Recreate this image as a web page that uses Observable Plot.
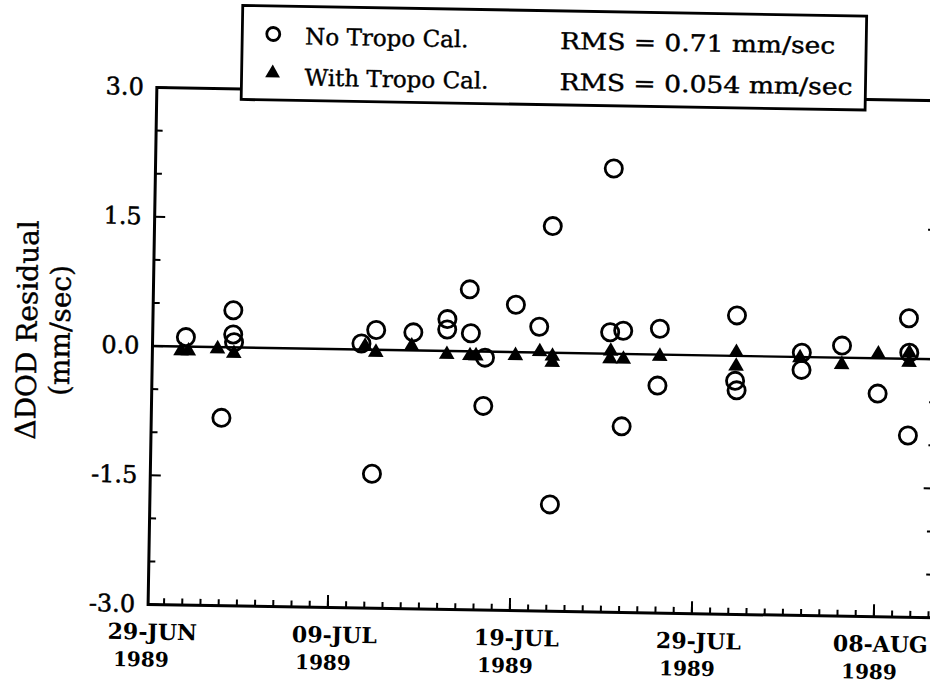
<!DOCTYPE html>
<html><head><meta charset="utf-8">
<script src="https://cdn.jsdelivr.net/npm/d3@7"></script>
<script src="https://cdn.jsdelivr.net/npm/@observablehq/plot@0.6"></script>
<style>
html,body{margin:0;padding:0;background:#fff;overflow:hidden;width:930px;height:688px}
#chart{position:absolute;left:0;top:0;width:945px;transform:rotate(0.97deg);transform-origin:152px 345px}
#chart svg{max-width:none !important;width:945px;height:688px;display:block}
</style></head><body><div id="chart"></div>
<script>
// No Tropo Cal. (open circles)
const noTropoTimes = [
  "1989-06-30T22:50Z","1989-07-02T23:30Z","1989-07-03T12:45Z","1989-07-03T13:10Z","1989-07-03T14:25Z",
  "1989-07-10T14:25Z","1989-07-11T09:35Z","1989-07-11T07:10Z","1989-07-13T10:35Z","1989-07-15T07:10Z",
  "1989-07-15T07:10Z","1989-07-16T12:00Z","1989-07-16T14:25Z","1989-07-17T09:35Z","1989-07-17T08:25Z",
  "1989-07-19T01:10Z","1989-07-20T08:25Z","1989-07-21T00:00Z","1989-07-21T02:25Z","1989-07-24T06:00Z",
  "1989-07-24T23:15Z","1989-07-24T07:10Z","1989-07-24T23:15Z","1989-07-26T23:30Z","1989-07-26T21:35Z",
  "1989-07-31T04:50Z","1989-07-31T03:50Z","1989-07-31T06:00Z","1989-08-03T19:10Z","1989-08-03T19:10Z",
  "1989-08-06T00:00Z","1989-08-08T00:00Z","1989-08-09T15:35Z","1989-08-09T16:50Z","1989-08-09T16:50Z"
];
const noTropoValues = [
  0.11, -0.82, 0.43, 0.15, 0.06,
  0.07, 0.23, -1.44, 0.21, 0.37,
  0.25, 0.72, 0.21, -0.07, -0.63,
  0.55, 0.30, 1.47, -1.76, 0.25,
  0.27, 2.15, -0.84, 0.30, -0.36,
  0.47, -0.29, -0.40, 0.05, -0.15,
  0.14, -0.41, 0.47, 0.07, -0.89
];
// With Tropo Cal. (filled triangles)
const withTropoTimes = [
  "1989-06-30T16:50Z","1989-07-01T02:25Z","1989-07-02T16:50Z","1989-07-03T14:25Z","1989-07-10T19:10Z",
  "1989-07-11T09:35Z","1989-07-13T08:40Z","1989-07-15T07:10Z","1989-07-16T13:40Z","1989-07-16T21:35Z",
  "1989-07-19T01:40Z","1989-07-20T09:35Z","1989-07-21T02:25Z","1989-07-21T02:25Z","1989-07-24T07:10Z",
  "1989-07-24T06:30Z","1989-07-25T00:00Z","1989-07-27T00:00Z","1989-07-31T04:50Z","1989-07-31T04:50Z",
  "1989-08-03T16:50Z","1989-08-06T00:00Z","1989-08-08T00:00Z","1989-08-09T16:50Z","1989-08-09T16:50Z"
];
const withTropoValues = [
  -0.05, -0.05, -0.02, -0.07, 0.04,
  -0.03, 0.05, -0.04, -0.05, -0.05,
  -0.04, 0.01, -0.04, -0.11, 0.03,
  -0.06, -0.06, -0.02, 0.04, -0.12,
  -0.01, -0.08, 0.05, 0.07, -0.04
];
const xTickDates = ["1989-06-29","1989-07-09","1989-07-19","1989-07-29","1989-08-08"];
const xTickLabels = ["29-JUN","09-JUL","19-JUL","29-JUL","08-AUG"];
const xTickYear = "1989";
const yTickValues = [-3, -1.5, 0, 1.5, 3];
const yMinorStep = 0.5;
const legendLabels = ["No Tropo Cal.", "With Tropo Cal."];
const legendRms = ["RMS = 0.71 mm/sec", "RMS = 0.054 mm/sec"];
const yTitle = "\u0394DOD Residual\n(mm/sec)";

const noTropo = noTropoTimes.map((t, i) => ({date: new Date(t), value: noTropoValues[i]}));
const withTropo = withTropoTimes.map((t, i) => ({date: new Date(t), value: withTropoValues[i]}));
const majorDates = xTickDates.map(d => new Date(d));
const xStart = new Date("1989-06-29T03:00Z"), xEnd = new Date("1989-08-11T06:00Z");
const minorDates = d3.utcDay.range(d3.utcDay.ceil(xStart), xEnd);
const yMinor = d3.range(-3, 3 + 1e-9, yMinorStep).filter(v => Math.abs(v / 1.5 - Math.round(v / 1.5)) > 1e-6);

const W = 945, H = 688, mL = 152, mT = 87, mB = 84, mR = W - 937;
const fW = W - mL - mR, fH = H - mT - mB;
const serif = "DejaVu Serif";

const svg = Plot.plot({
  width: W, height: H,
  marginLeft: mL, marginRight: mR, marginTop: mT, marginBottom: mB,
  style: {fontFamily: serif, background: "#fff", color: "#000", overflow: "visible", maxWidth: "none"},
  x: {type: "utc", domain: [xStart, xEnd], axis: null},
  y: {domain: [-3, 3], axis: null},
  marks: [
    Plot.ruleY([0], {strokeWidth: 2.4}),
    // bottom axis ticks (inward)
    Plot.ruleX(minorDates, {x: d => d, insetTop: fH - 6, strokeWidth: 2}),
    Plot.ruleX(majorDates.slice(1), {x: d => d, insetTop: fH - 12, strokeWidth: 2}),
    // left & right axis ticks (inward)
    Plot.ruleY(yMinor, {y: d => d, insetRight: fW - 7, strokeWidth: 2}),
    Plot.ruleY(yTickValues, {y: d => d, insetRight: fW - 11, strokeWidth: 2}),
    Plot.ruleY(yMinor, {y: d => d, insetLeft: fW - 7, strokeWidth: 2}),
    Plot.ruleY(yTickValues, {y: d => d, insetLeft: fW - 11, strokeWidth: 2}),
    Plot.frame({strokeWidth: 3}),
    // tick labels
    Plot.text(yTickValues, {y: d => d, frameAnchor: "left", dx: -13, textAnchor: "end",
      text: d => d.toFixed(1), fontSize: 24, fontFamily: serif, fill: "#000", stroke: "#000", strokeWidth: 0.5}),
    Plot.text(majorDates, {x: d => d, frameAnchor: "bottom", dy: 35, dx: 7, textAnchor: "middle",
      text: (d, i) => xTickLabels[i], fontSize: 22, fontWeight: "bold", fontFamily: serif, fill: "#000"}),
    Plot.text(majorDates, {x: d => d, frameAnchor: "bottom", dy: 62, dx: -4, textAnchor: "middle",
      text: () => xTickYear, fontSize: 20, fontWeight: "bold", fontFamily: serif, fill: "#000"}),
    Plot.text([yTitle], {frameAnchor: "left", dx: -110, dy: -14, rotate: -90, textAnchor: "middle",
      text: d => d, fontSize: 28, lineHeight: 1.18, fontFamily: serif, fill: "#000", stroke: "#000", strokeWidth: 0.4}),
    // data
    Plot.dot(noTropo, {x: "date", y: "value", r: 8.6, stroke: "#000", strokeWidth: 2.8, fill: "none"}),
    Plot.dot(withTropo, {x: "date", y: "value", symbol: "triangle", r: 5.8, fill: "#000", stroke: "none"})
  ]
});

// legend box overlapping the top frame
const g = d3.select(svg).append("g").attr("font-family", serif).attr("font-size", 23)
  .attr("text-anchor", "start");
g.append("rect").attr("x", 237).attr("y", 4).attr("width", 624).attr("height", 94)
  .attr("fill", "#fff").attr("stroke", "#000").attr("stroke-width", 2.8);
g.append("circle").attr("cx", 268).attr("cy", 32).attr("r", 6.5)
  .attr("fill", "none").attr("stroke", "#000").attr("stroke-width", 2.8);
g.append("path").attr("d", d3.symbol(d3.symbolTriangle, Math.PI * 5.5 * 5.5)())
  .attr("transform", "translate(268,71)").attr("fill", "#000");
const rowsY = [34, 75];
const rmsLengths = [275, 293];
legendLabels.forEach((t, i) => {
  g.append("text").attr("x", 300).attr("y", rowsY[i]).attr("dy", "0.35em")
    .attr("fill", "#000").attr("stroke", "#000").attr("stroke-width", 0.4).text(t);
  g.append("text").attr("x", 555).attr("y", rowsY[i]).attr("dy", "0.35em")
    .attr("textLength", rmsLengths[i]).attr("lengthAdjust", "spacingAndGlyphs")
    .attr("fill", "#000").attr("stroke", "#000").attr("stroke-width", 0.4).text(legendRms[i]);
});

document.getElementById("chart").appendChild(svg);
</script>
</body></html>
